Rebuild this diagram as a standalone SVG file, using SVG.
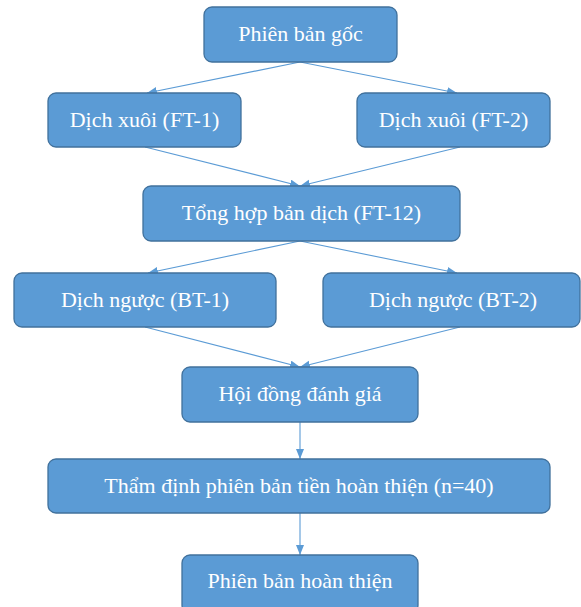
<svg xmlns="http://www.w3.org/2000/svg" width="581" height="607" viewBox="0 0 581 607">
  <defs>
    <style>
      .box { fill: #5B9BD5; stroke: #41719C; stroke-width: 1.3; }
      .lbl { fill: #FFFFFF; font-family: "Liberation Serif", "Times New Roman", serif; font-size: 22px; text-anchor: middle; }
      .conn { stroke: #5B9BD5; stroke-width: 1.1; fill: none; marker-end: url(#arrow); }
    </style>
    <marker id="arrow" markerUnits="userSpaceOnUse" markerWidth="11" markerHeight="9" refX="10" refY="4" orient="auto">
      <path d="M0,0 L10,4 L0,8 z" fill="#5B9BD5"/>
    </marker>
  </defs>
  <rect width="581" height="607" fill="#FFFFFF"/>
  <g id="connectors">
    <line class="conn" x1="300" y1="62" x2="147" y2="93"/>
    <line class="conn" x1="300" y1="62" x2="457" y2="93"/>
    <line class="conn" x1="145" y1="147" x2="300" y2="186"/>
    <line class="conn" x1="460" y1="147" x2="300" y2="186"/>
    <line class="conn" x1="300" y1="241" x2="148" y2="273"/>
    <line class="conn" x1="300" y1="241" x2="457" y2="273"/>
    <line class="conn" x1="145" y1="327" x2="300" y2="367"/>
    <line class="conn" x1="460" y1="327" x2="300" y2="367"/>
    <line class="conn" x1="300" y1="422" x2="300" y2="459"/>
    <line class="conn" x1="300" y1="513" x2="300" y2="555"/>
  </g>
  <g id="goc">
    <rect class="box" x="204" y="7" width="193" height="55" rx="8"/>
    <text class="lbl" x="300.5" y="41">Phiên bản gốc</text>
  </g>
  <g id="ft1">
    <rect class="box" x="48" y="93" width="193" height="54" rx="8"/>
    <text class="lbl" x="144.5" y="126.5">Dịch xuôi (FT-1)</text>
  </g>
  <g id="ft2">
    <rect class="box" x="357" y="93" width="193" height="54" rx="8"/>
    <text class="lbl" x="453.5" y="126.5">Dịch xuôi (FT-2)</text>
  </g>
  <g id="ft12">
    <rect class="box" x="143" y="186" width="317" height="55" rx="8"/>
    <text class="lbl" x="301.5" y="220">Tổng hợp bản dịch (FT-12)</text>
  </g>
  <g id="bt1">
    <rect class="box" x="14" y="273" width="262" height="54" rx="8"/>
    <text class="lbl" x="145" y="306.5">Dịch ngược (BT-1)</text>
  </g>
  <g id="bt2">
    <rect class="box" x="323" y="273" width="257" height="54" rx="8"/>
    <text class="lbl" x="453" y="306.5">Dịch ngược (BT-2)</text>
  </g>
  <g id="hoidong">
    <rect class="box" x="182" y="367" width="236" height="55" rx="8"/>
    <text class="lbl" x="300" y="401">Hội đồng đánh giá</text>
  </g>
  <g id="thamdinh">
    <rect class="box" x="48" y="459" width="502" height="54" rx="8"/>
    <text class="lbl" x="299" y="492.5">Thẩm định phiên bản tiền hoàn thiện (n=40)</text>
  </g>
  <g id="hoanthien">
    <rect class="box" x="182" y="555" width="236" height="58" rx="8"/>
    <text class="lbl" x="300" y="587.5">Phiên bản hoàn thiện</text>
  </g>
</svg>
